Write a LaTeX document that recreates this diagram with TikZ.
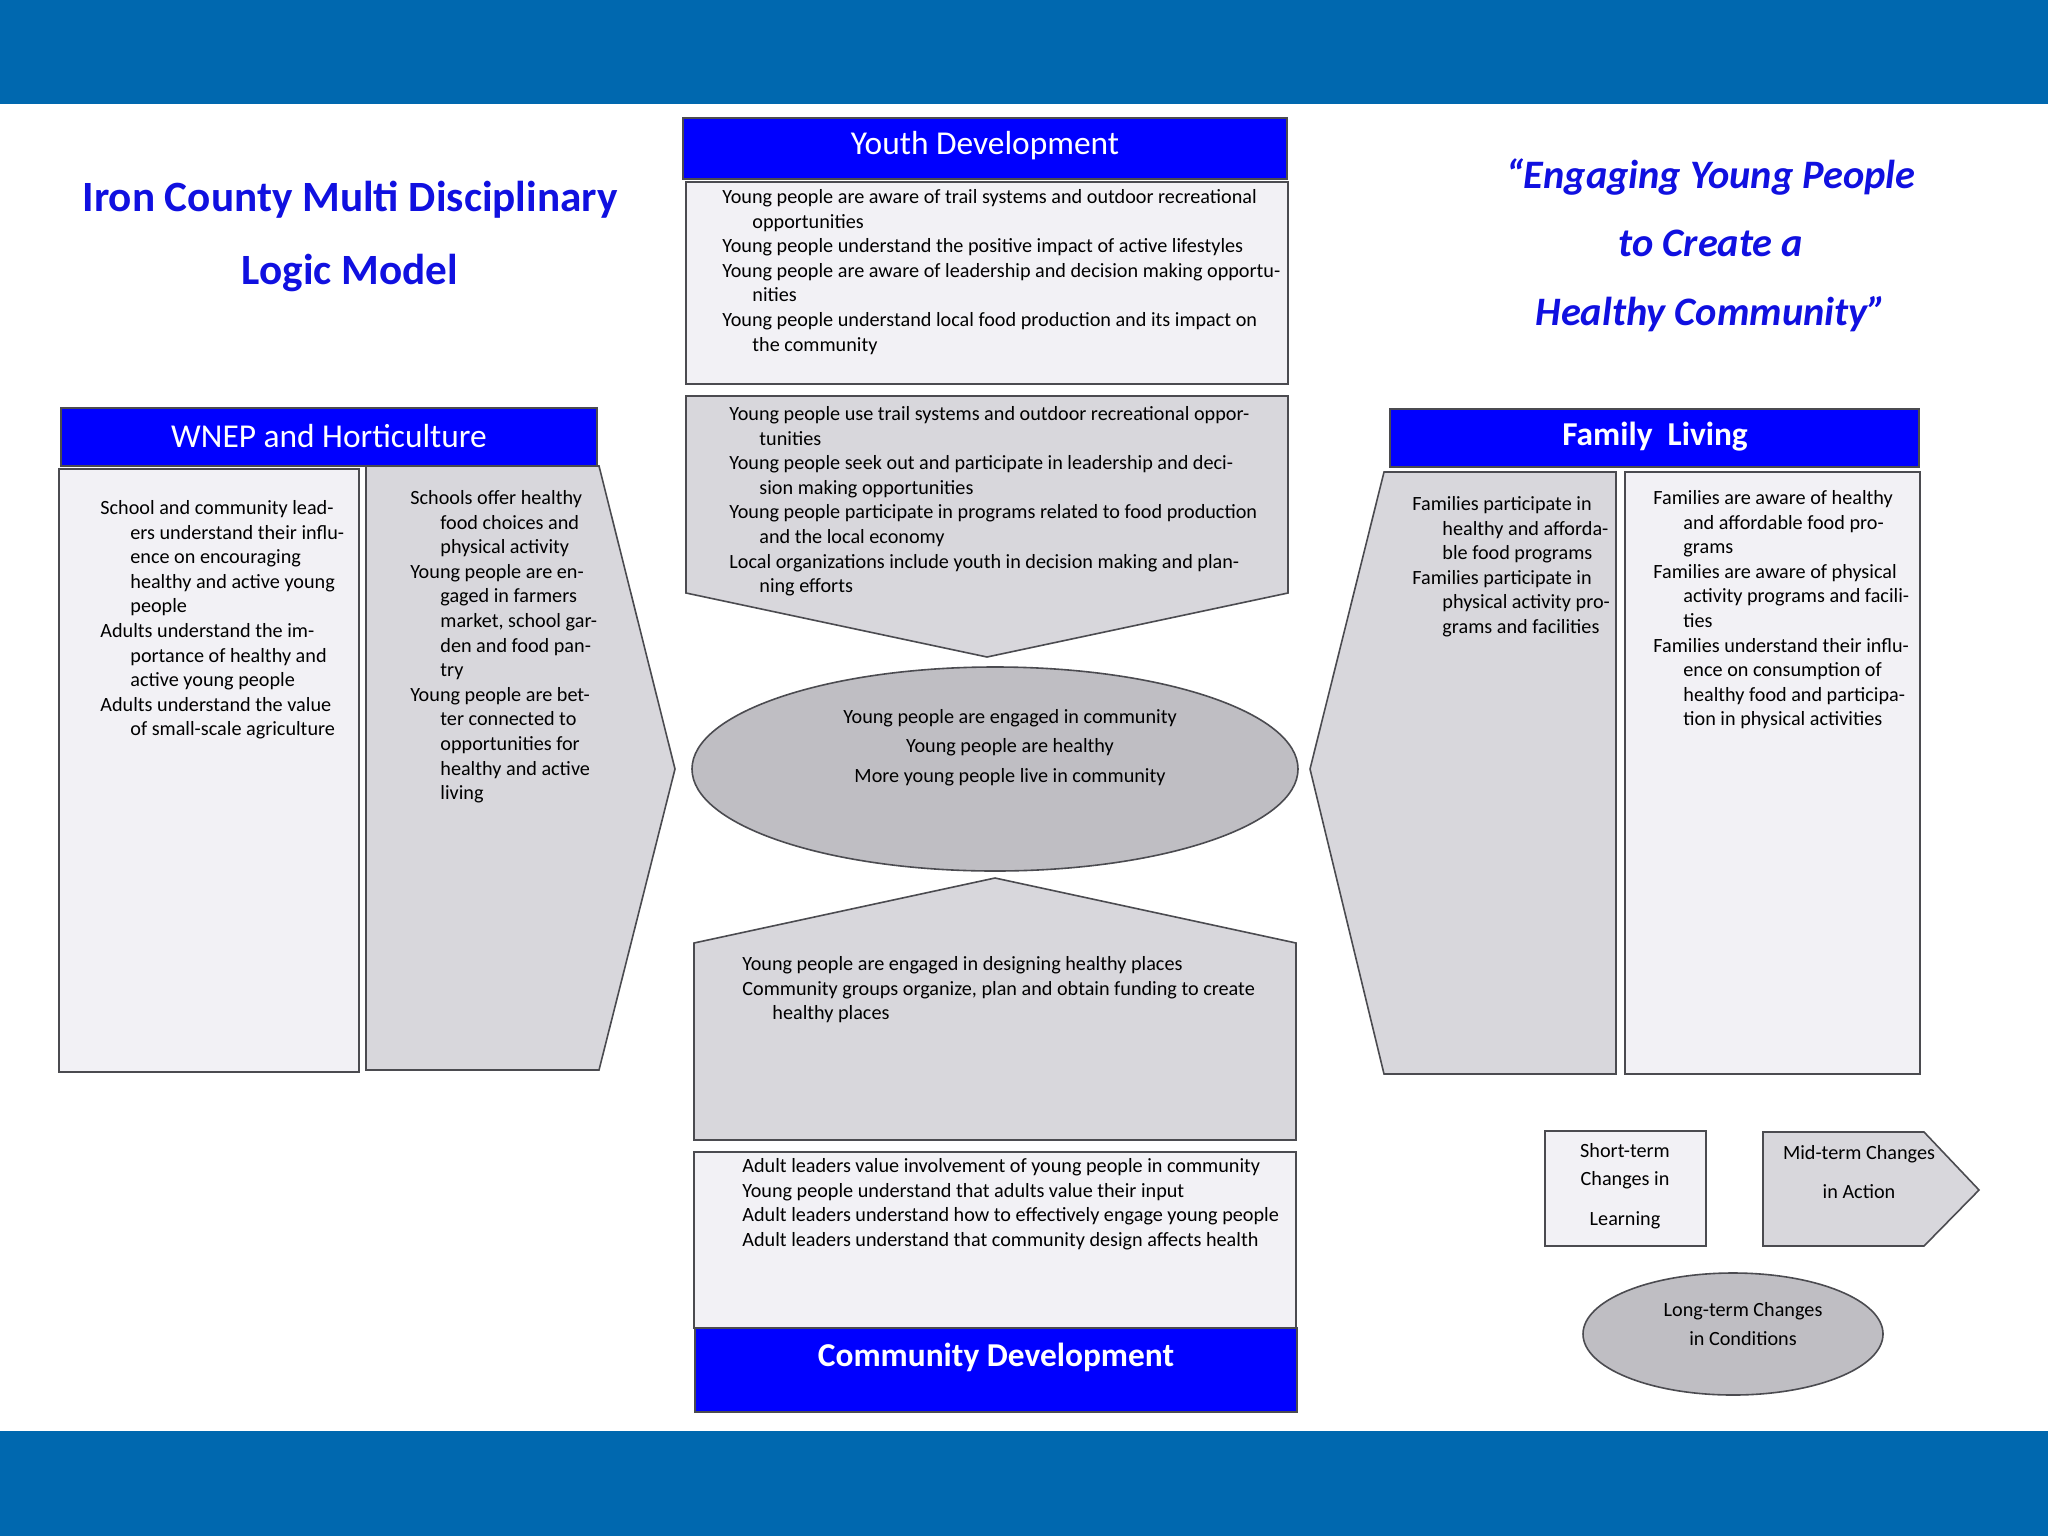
\documentclass[tikz,border=0pt]{standalone}
\usepackage{fontspec}
\setmainfont{Carlito}
\definecolor{band}{RGB}{0,104,175}
\definecolor{hdr}{RGB}{0,0,255}
\definecolor{ttl}{RGB}{16,16,224}
\definecolor{lite}{RGB}{242,241,245}
\definecolor{midg}{RGB}{216,215,220}
\definecolor{darkg}{RGB}{191,190,195}
\definecolor{edge}{RGB}{75,75,80}
\newcommand{\ind}{\hspace*{15pt}}
\begin{document}
\begin{tikzpicture}[x=0.5pt,y=-0.5pt,
  hdrbox/.style={fill=hdr,draw=edge,line width=1pt},
  litebox/.style={fill=lite,draw=edge,line width=0.8pt},
  midbox/.style={fill=midg,draw=edge,line width=0.8pt},
  darkbox/.style={fill=darkg,draw=edge,line width=0.8pt},
  body/.style={font=\fontsize{10.1}{12.3}\selectfont,align=left,inner sep=0pt,anchor=north west},
  hdrtext/.style={font=\fontsize{16.7}{19}\selectfont,text=white,inner sep=0pt},
  ttltext/.style={text=ttl,inner sep=0pt,align=center}]
\useasboundingbox (0,0) rectangle (2048,1536);
\fill[white] (0,0) rectangle (2048,1536);
% bands
\fill[band] (0,0) rectangle (2048,104);
\fill[band] (0,1431) rectangle (2048,1536);
% titles
\node[ttltext,font=\fontsize{21.6}{36.5}\selectfont\bfseries] (title) at (350,236) {Iron County Multi Disciplinary\\Logic Model};
\node[ttltext,font=\fontsize{20.2}{34.25}\selectfont\bfseries\itshape] (quote) at (1711,245) {“Engaging Young People\\to Create a\\Healthy Community”};
% Youth development
\draw[hdrbox] (683,118) rectangle (1287,179);
\node[hdrtext] (ydh) at (985,146) {Youth Development};
\draw[litebox] (686,182) rectangle (1288,384);
\node[body] (ys) at (722,189) {Young people are aware of trail systems and outdoor recreational\\\ind opportunities\\Young people understand the positive impact of active lifestyles\\Young people are aware of leadership and decision making opportu-\\\ind nities\\Young people understand local food production and its impact on\\\ind the community};
\draw[midbox] (686,396) -- (1288,396) -- (1288,593) -- (987,657) -- (686,593) -- cycle;
\node[body] (ym) at (729,406) {Young people use trail systems and outdoor recreational oppor-\\\ind tunities\\Young people seek out and participate in leadership and deci-\\\ind sion making opportunities\\Young people participate in programs related to food production\\\ind and the local economy\\Local organizations include youth in decision making and plan-\\\ind ning efforts};
% central ellipse
\draw[darkbox] (995,769) ellipse [x radius=303, y radius=102];
\node[font=\fontsize{10.1}{14.75}\selectfont,align=center,inner sep=0pt,anchor=north] (ell) at (1010,709) {Young people are engaged in community\\Young people are healthy\\More young people live in community};
% Community development
\draw[midbox] (694,943) -- (995,878) -- (1296,943) -- (1296,1140) -- (694,1140) -- cycle;
\node[body] (cm) at (742,956) {Young people are engaged in designing healthy places\\Community groups organize, plan and obtain funding to create\\\ind healthy places};
\draw[litebox] (694,1152) rectangle (1296,1328);
\node[body] (cs) at (742,1158) {Adult leaders value involvement of young people in community\\Young people understand that adults value their input\\Adult leaders understand how to effectively engage young people\\Adult leaders understand that community design affects health};
\draw[hdrbox] (695,1328) rectangle (1297,1412);
\node[hdrtext,font=\fontsize{16.7}{19}\selectfont\bfseries] (cdh) at (996,1357) {Community Development};
% WNEP
\draw[hdrbox] (61,408) rectangle (597,466);
\node[hdrtext] (wh) at (329,436) {WNEP and Horticulture};
\draw[litebox] (59,469) rectangle (359,1072);
\node[body] (ws) at (100,500) {School and community lead-\\\ind ers understand their influ-\\\ind ence on encouraging\\\ind healthy and active young\\\ind people\\Adults understand the im-\\\ind portance of healthy and\\\ind active young people\\Adults understand the value\\\ind of small-scale agriculture};
\draw[midbox] (366,466) -- (599,466) -- (675,769) -- (599,1070) -- (366,1070) -- cycle;
\node[body] (wm) at (410,490) {Schools offer healthy\\\ind food choices and\\\ind physical activity\\Young people are en-\\\ind gaged in farmers\\\ind market, school gar-\\\ind den and food pan-\\\ind try\\Young people are bet-\\\ind ter connected to\\\ind opportunities for\\\ind healthy and active\\\ind living};
% Family living
\draw[hdrbox] (1390,409) rectangle (1919,467);
\node[hdrtext,font=\fontsize{16.7}{19}\selectfont\bfseries] (fh) at (1655,437) {Family\ \ Living};
\draw[midbox] (1384,472) -- (1616,472) -- (1616,1074) -- (1384,1074) -- (1310,769) -- cycle;
\node[body] (fm) at (1412,496) {Families participate in\\\ind healthy and afforda-\\\ind ble food programs\\Families participate in\\\ind physical activity pro-\\\ind grams and facilities};
\draw[litebox] (1625,472) rectangle (1920,1074);
\node[body] (fs) at (1653,490) {Families are aware of healthy\\\ind and affordable food pro-\\\ind grams\\Families are aware of physical\\\ind activity programs and facili-\\\ind ties\\Families understand their influ-\\\ind ence on consumption of\\\ind healthy food and participa-\\\ind tion in physical activities};
% legend
\draw[litebox] (1545,1131) rectangle (1706,1246);
\node[font=\fontsize{10.1}{14}\selectfont,align=center,inner sep=0pt,anchor=north] (ls) at (1625,1143) {Short-term\\Changes in\\[6pt]Learning};
\draw[midbox] (1763,1132) -- (1924,1132) -- (1979,1190) -- (1924,1246) -- (1763,1246) -- cycle;
\node[font=\fontsize{10.1}{19.5}\selectfont,align=center,inner sep=0pt,anchor=north] (lm) at (1859,1145) {Mid-term Changes\\in Action};
\draw[darkbox] (1733,1334) ellipse [x radius=150, y radius=61];
\node[font=\fontsize{10.1}{14.5}\selectfont,align=center,inner sep=0pt,anchor=north] (ll) at (1743,1302) {Long-term Changes\\in Conditions};
\end{tikzpicture}
\end{document}
